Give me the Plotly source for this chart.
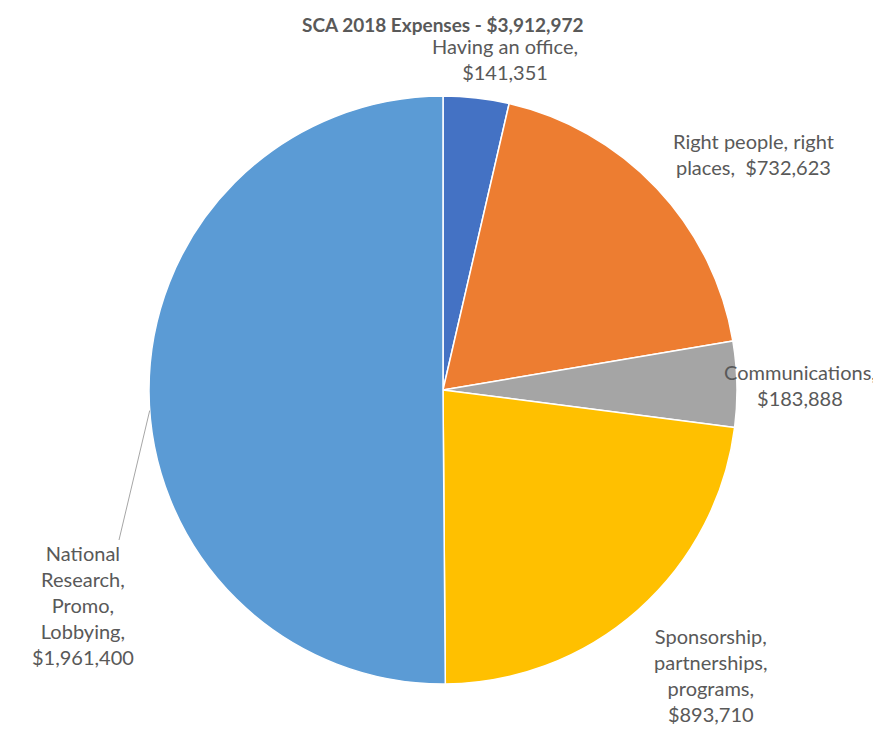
import plotly.graph_objects as go
import math

categories = ["Having an office", "Right people, right places", "Communications",
              "Sponsorship, partnerships, programs", "National Research, Promo, Lobbying"]
values = [141351, 732623, 183888, 893710, 1961400]
label_texts = ["Having an office,<br>$141,351",
               "Right people, right<br>places,  $732,623",
               "Communications,<br>$183,888",
               "Sponsorship,<br>partnerships,<br>programs,<br>$893,710",
               "National<br>Research,<br>Promo,<br>Lobbying,<br>$1,961,400"]
colors = ["#4472C4", "#ED7D31", "#A5A5A5", "#FFC000", "#5B9BD5"]
title_text = "SCA 2018 Expenses - $3,912,972"

OFF = 8  # page body margin
W, H = 881 - OFF, 741 - OFF
cx, cy, R = 443 - OFF, 390 - OFF, 294

fig = go.Figure(go.Pie(
    labels=categories, values=values, sort=False, direction="clockwise", rotation=0,
    marker=dict(colors=colors, line=dict(color="white", width=1.5)),
    textinfo="none", hoverinfo="label+value", showlegend=False,
    domain=dict(x=[(cx - R) / W, (cx + R) / W], y=[1 - (cy + R) / H, 1 - (cy - R) / H]),
))

font = dict(family="Lato, Open Sans, sans-serif", size=20, color="#595959")
# label centers (pixels in page coords)
label_pos = [(505, 59), (753, 154), (800, 385), (711, 675), (83, 605)]
for t, (x, y) in zip(label_texts, label_pos):
    fig.add_annotation(x=(x - OFF) / W, y=1 - (y - OFF) / H, xref="paper", yref="paper", text=t,
                       showarrow=False, font=font, align="center",
                       xanchor="center", yanchor="middle")

fig.add_annotation(x=cx / W, y=1 - (24 - OFF) / H, xref="paper", yref="paper",
                   text="<b>" + title_text + "</b>", showarrow=False,
                   font=dict(family="Lato, Open Sans, sans-serif", size=19, color="#595959"),
                   xanchor="center", yanchor="middle")

# leader line from National label to slice edge
ang = math.radians(184)
x0 = cx + R * math.cos(ang)
y0 = cy - R * math.sin(ang)
fig.add_shape(type="line", xref="paper", yref="paper",
              x0=x0 / W, y0=1 - y0 / H, x1=(119 - OFF) / W, y1=1 - (540 - OFF) / H,
              line=dict(color="#A6A6A6", width=1))

fig.update_layout(width=W, height=H, margin=dict(l=0, r=0, t=0, b=0),
                  paper_bgcolor="white", plot_bgcolor="white")
fig.write_html("out.html")
